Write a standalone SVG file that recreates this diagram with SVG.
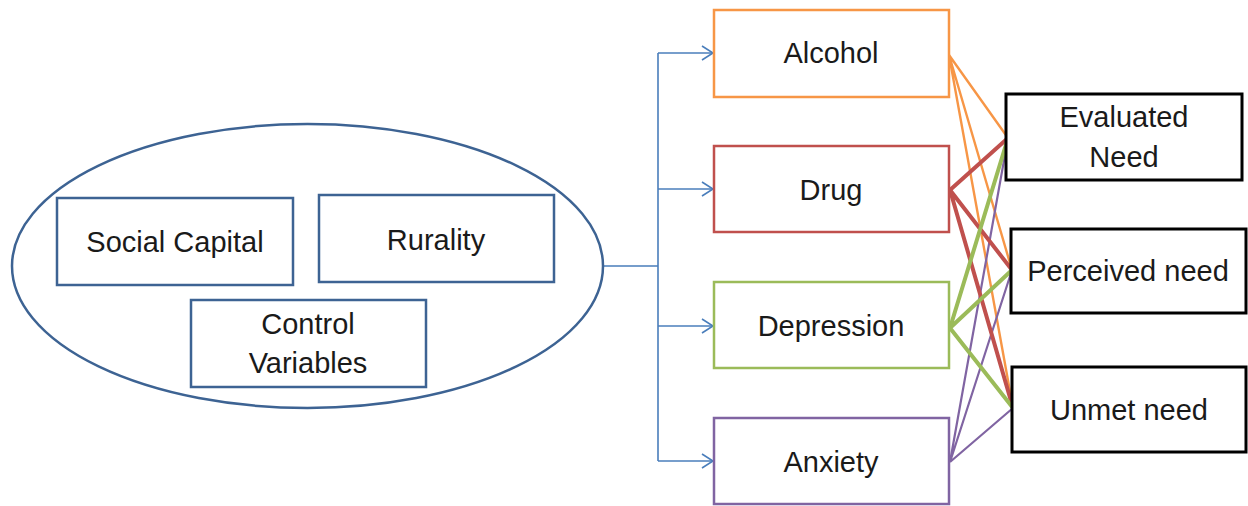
<svg xmlns="http://www.w3.org/2000/svg" width="1248" height="506" viewBox="0 0 1248 506">
<defs>
<marker id="chev" markerUnits="userSpaceOnUse" markerWidth="14" markerHeight="18" refX="12" refY="8" orient="auto">
<path d="M1,1 L12,8 L1,15" fill="none" stroke="#4A7EBB" stroke-width="1.6"/>
</marker>
<style>
text{font-family:"Liberation Sans",Arial,sans-serif;font-size:29px;fill:#1a1a1a;text-anchor:middle}
.blue{fill:#fff;stroke:#3D6393;stroke-width:2.5}
.blk{fill:#fff;stroke:#000;stroke-width:3}
.feed{fill:none;stroke:#4A7EBB;stroke-width:1.6}
.al{stroke:#F79646;stroke-width:2.4}
.dr{stroke:#C0504D;stroke-width:4}
.de{stroke:#9BBB59;stroke-width:4}
.an{stroke:#8064A2;stroke-width:2.2}
</style>
</defs>
<rect width="1248" height="506" fill="#fff"/>
<g id="connectors">
<path class="feed" d="M603,266 H658 M658,53 V461"/>
<path class="feed" d="M658,53 H713" marker-end="url(#chev)"/>
<path class="feed" d="M658,189 H713" marker-end="url(#chev)"/>
<path class="feed" d="M658,326 H713" marker-end="url(#chev)"/>
<path class="feed" d="M658,461 H713" marker-end="url(#chev)"/>
<g fill="none">
<path class="al" d="M949,55 L1008,138 M949,55 L1012,270 M949,55 L1013,408"/>
<path class="an" d="M950,462 L1008,138 M950,462 L1012,270 M950,462 L1013,408"/>
<path class="dr" d="M950,190 L1008,138 M950,190 L1012,270 M950,190 L1013,408"/>
<path class="de" d="M950,328 L1008,138 M950,328 L1012,270 M950,328 L1013,408"/>
</g>
</g>
<g id="group">
<ellipse cx="307.5" cy="266" rx="295.5" ry="142" fill="#fff" stroke="#3D6393" stroke-width="2.5"/>
</g>
<g id="social-capital"><rect class="blue" x="57" y="198" width="236" height="87"/><text x="175" y="252">Social Capital</text></g>
<g id="rurality"><rect class="blue" x="319" y="195" width="235" height="87"/><text x="436" y="250">Rurality</text></g>
<g id="control-variables"><rect class="blue" x="191" y="300" width="235" height="87"/><text x="308" y="334">Control</text><text x="308" y="373">Variables</text></g>
<g id="alcohol"><rect x="714" y="10" width="235" height="87" fill="#fff" stroke="#F79646" stroke-width="2.5"/><text x="831" y="63">Alcohol</text></g>
<g id="drug"><rect x="714" y="146" width="235" height="86" fill="#fff" stroke="#C0504D" stroke-width="2.5"/><text x="831" y="200">Drug</text></g>
<g id="depression"><rect x="714" y="282" width="235" height="86" fill="#fff" stroke="#9BBB59" stroke-width="2.5"/><text x="831" y="336">Depression</text></g>
<g id="anxiety"><rect x="714" y="418" width="235" height="86" fill="#fff" stroke="#8064A2" stroke-width="2.5"/><text x="831" y="472">Anxiety</text></g>
<g id="evaluated-need"><rect class="blk" x="1006" y="94" width="236" height="86"/><text x="1124" y="127">Evaluated</text><text x="1124" y="167">Need</text></g>
<g id="perceived-need"><rect class="blk" x="1011" y="229" width="235" height="84"/><text x="1128" y="281">Perceived need</text></g>
<g id="unmet-need"><rect class="blk" x="1012" y="367" width="234" height="85"/><text x="1129" y="420">Unmet need</text></g>
</svg>
